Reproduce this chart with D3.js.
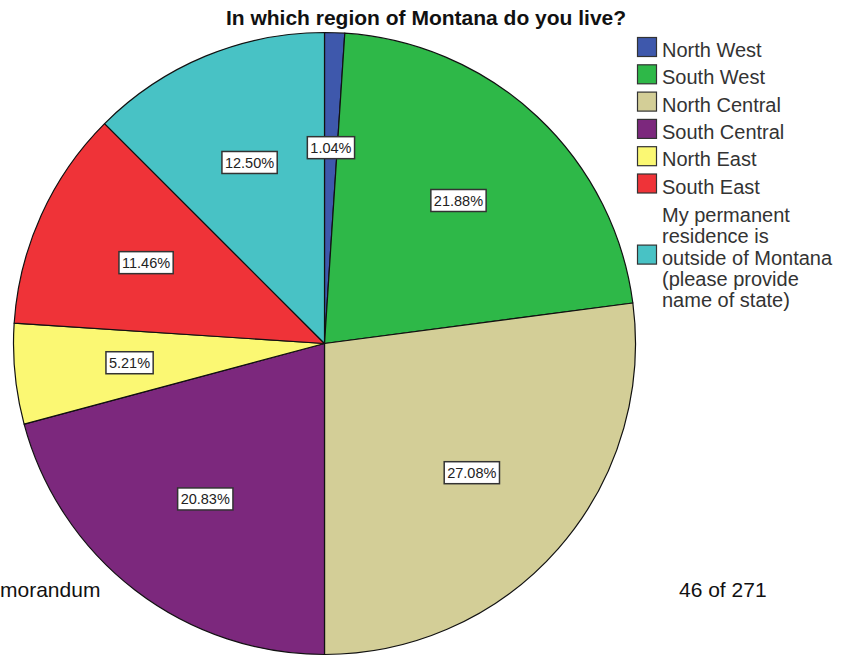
<!DOCTYPE html>
<html>
<head>
<meta charset="utf-8">
<script src="https://cdn.jsdelivr.net/npm/d3@7"></script>
<style>
  html, body { margin: 0; padding: 0; background: #fff; }
  svg { display: block; font-family: "Liberation Sans", Arial, sans-serif; }
</style>
</head>
<body>
<div id="chart"></div>
<script>
// Region data (clockwise from 12 o'clock)
const categories = [
    "North West",
    "South West",
    "North Central",
    "South Central",
    "North East",
    "South East",
    "My permanent residence is outside of Montana (please provide name of state)"
];
const percents = [1.04, 21.88, 27.08, 20.83, 5.21, 11.46, 12.50];
const sliceColors = ["#3e58ac", "#2eb848", "#d3ce97", "#7c287d", "#fbf873", "#ef3338", "#48c2c5"];
// legend text broken the way the original wraps it
const legendLines = [
    ["North West"],
    ["South West"],
    ["North Central"],
    ["South Central"],
    ["North East"],
    ["South East"],
    ["My permanent", "residence is", "outside of Montana", "(please provide", "name of state)"]
];

const width = 858, height = 657;
const cx = 324.5, cy = 343.5, R = 311;

const svg = d3.select("#chart").append("svg")
    .attr("width", width)
    .attr("height", height);

// Title
svg.append("text")
    .attr("x", 426)
    .attr("y", 25)
    .attr("text-anchor", "middle")
    .attr("font-size", 21)
    .attr("font-weight", "bold")
    .attr("fill", "#111")
    .text("In which region of Montana do you live?");

// Pie
const pie = d3.pie().sort(null).value(d => d).startAngle(0).endAngle(2 * Math.PI);
const arcs = pie(percents);
const arc = d3.arc().innerRadius(0).outerRadius(R);
const labelArc = d3.arc().innerRadius(R * 0.63).outerRadius(R * 0.63);

const g = svg.append("g").attr("transform", `translate(${cx},${cy})`);

g.selectAll("path.slice")
    .data(arcs)
    .enter().append("path")
    .attr("class", "slice")
    .attr("d", arc)
    .attr("fill", (d, i) => sliceColors[i])
    .attr("stroke", "#111")
    .attr("stroke-width", 1.2)
    .attr("stroke-linejoin", "round");

// Percent labels in boxes
const lab = g.selectAll("g.lab")
    .data(arcs)
    .enter().append("g")
    .attr("class", "lab")
    .attr("transform", d => `translate(${labelArc.centroid(d)})`);

lab.append("text")
    .attr("text-anchor", "middle")
    .attr("dy", "0.36em")
    .attr("font-size", 14.5)
    .attr("fill", "#222")
    .text(d => d.data.toFixed(2) + "%");

lab.each(function() {
    const t = d3.select(this).select("text");
    const bb = t.node().getBBox();
    d3.select(this).insert("rect", "text")
        .attr("x", bb.x - 3)
        .attr("y", -11)
        .attr("width", bb.width + 6)
        .attr("height", 22)
        .attr("fill", "#fff")
        .attr("stroke", "#333")
        .attr("stroke-width", 1.5);
});

// Legend
const legend = svg.append("g").attr("transform", "translate(637,37)");
const rowStep = 27.3, lineStep = 21.3, sw = 20;

legendLines.forEach((lines, i) => {
    let top;
    const item = legend.append("g");
    if (lines.length === 1) {
        top = i * rowStep;
        item.append("text")
            .attr("x", sw + 5)
            .attr("y", top + sw)
            .attr("font-size", 20)
            .attr("fill", "#333")
            .text(lines[0]);
    } else {
        const firstBase = (i - 1) * rowStep + sw + 28.5;
        const mid = Math.floor(lines.length / 2);
        top = firstBase + mid * lineStep - sw;
        lines.forEach((ln, k) => {
            item.append("text")
                .attr("x", sw + 5)
                .attr("y", firstBase + k * lineStep)
                .attr("font-size", 20)
                .attr("fill", "#333")
                .text(ln);
        });
    }
    item.append("rect")
        .attr("x", 0.5)
        .attr("y", top + 0.5)
        .attr("width", sw - 1)
        .attr("height", sw - 1)
        .attr("fill", sliceColors[i])
        .attr("stroke", "#333")
        .attr("stroke-width", 1.2);
});

// page text bleeding through from the document
svg.append("text")
    .attr("x", 0)
    .attr("y", 597)
    .attr("font-size", 21)
    .attr("fill", "#111")
    .text("morandum");

svg.append("text")
    .attr("x", 679)
    .attr("y", 597)
    .attr("font-size", 21)
    .attr("fill", "#111")
    .text("46 of 271");
</script>
</body>
</html>
